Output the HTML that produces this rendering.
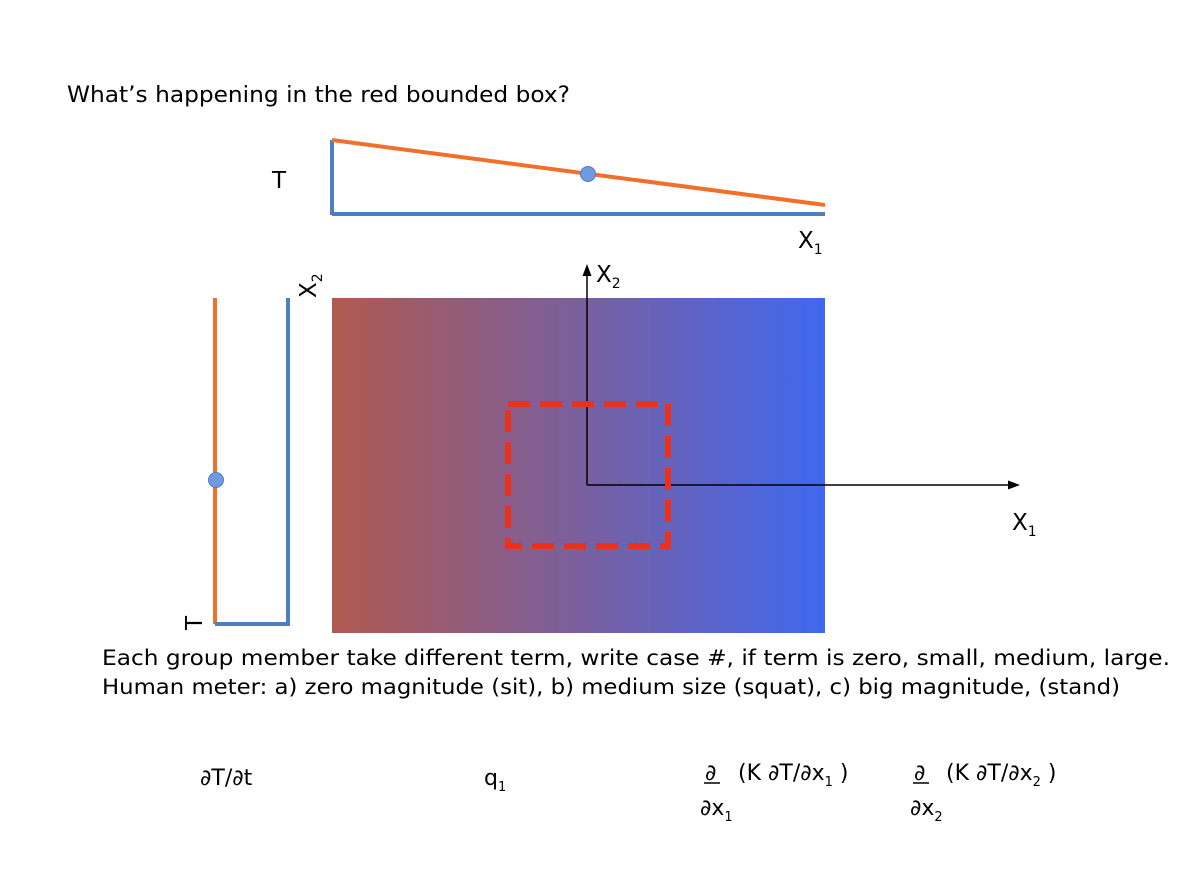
<!DOCTYPE html>
<html><head><meta charset="utf-8"><style>
html,body{margin:0;padding:0;background:#fff;}
svg{display:block}
text{font-family:"DejaVu Sans","Liberation Sans",sans-serif;fill:#000}
</style></head><body>
<svg width="1200" height="876" viewBox="0 0 1200 876" xmlns="http://www.w3.org/2000/svg">
<defs>
<linearGradient id="g" x1="0" x2="1" y1="0" y2="0">
<stop offset="0" stop-color="#b0594f"/>
<stop offset="0.5" stop-color="#7a5f9e"/>
<stop offset="1" stop-color="#3f68f0"/>
</linearGradient>
<marker id="a" markerWidth="8" markerHeight="8" refX="4" refY="4" orient="auto"><path d="M0,1 L8,4 L0,7 z" fill="#000"/></marker>
</defs>
<text x="67" y="102" font-size="22" textLength="503" lengthAdjust="spacingAndGlyphs">What’s happening in the red bounded box?</text>
<line x1="332" y1="140" x2="332" y2="215" stroke="#4f7ec0" stroke-width="4"/>
<line x1="332" y1="214" x2="825" y2="214" stroke="#4f7ec0" stroke-width="4"/>
<line x1="332" y1="140" x2="825" y2="205" stroke="#ef6f2b" stroke-width="4"/>
<circle cx="588" cy="174" r="7.5" fill="#6f9ae0" stroke="#4f7ec0" stroke-width="1"/>
<text x="272" y="188" font-size="23">T</text>
<text x="798" y="248" font-size="23">X<tspan font-size="14" dy="6">1</tspan></text>
<line x1="215" y1="298" x2="215" y2="624" stroke="#ef6f2b" stroke-width="4"/>
<line x1="288" y1="298" x2="288" y2="626" stroke="#4f7ec0" stroke-width="4"/>
<line x1="215" y1="624" x2="290" y2="624" stroke="#4f7ec0" stroke-width="4"/>
<circle cx="216" cy="480" r="7.5" fill="#6f9ae0" stroke="#4f7ec0" stroke-width="1"/>
<text transform="translate(316,298) rotate(-90)" font-size="23">X<tspan font-size="14" dy="6">2</tspan></text>
<text transform="translate(202,630) rotate(-90)" font-size="23">T</text>
<rect x="332" y="298" width="493" height="335" fill="url(#g)"/>
<line x1="587" y1="485" x2="587" y2="270" stroke="#000" stroke-width="1.5" marker-end="url(#a)"/>
<line x1="587" y1="485" x2="1014" y2="485" stroke="#000" stroke-width="1.5" marker-end="url(#a)"/>
<text x="596" y="282" font-size="23">X<tspan font-size="14" dy="6">2</tspan></text>
<text x="1012" y="530" font-size="23">X<tspan font-size="14" dy="6">1</tspan></text>
<rect x="508" y="404" width="160" height="142" fill="none" stroke="#e8321e" stroke-width="6" stroke-dasharray="22,10"/>
<text x="102" y="665" font-size="21.5" textLength="1068" lengthAdjust="spacingAndGlyphs">Each group member take different term,  write case #, if term is zero, small, medium, large.</text>
<text x="102" y="694" font-size="21.5" textLength="1018" lengthAdjust="spacingAndGlyphs">Human meter: a) zero magnitude (sit), b) medium size (squat), c) big magnitude, (stand)</text>
<text x="200" y="785" font-size="22">∂T/∂t</text>
<text x="484" y="785" font-size="22">q<tspan font-size="13" dy="6">1</tspan></text>
<text x="705" y="780" font-size="22">∂</text>
<line x1="704" y1="783" x2="720" y2="783" stroke="#000" stroke-width="1.5"/>
<text x="738" y="780" font-size="22">(K ∂T/∂x<tspan font-size="13" dy="6">1</tspan><tspan dy="-6"> )</tspan></text>
<text x="700" y="815" font-size="22">∂x<tspan font-size="13" dy="6">1</tspan></text>
<text x="914" y="780" font-size="22">∂</text>
<line x1="913" y1="783" x2="929" y2="783" stroke="#000" stroke-width="1.5"/>
<text x="946" y="780" font-size="22">(K ∂T/∂x<tspan font-size="13" dy="6">2</tspan><tspan dy="-6"> )</tspan></text>
<text x="910" y="815" font-size="22">∂x<tspan font-size="13" dy="6">2</tspan></text>
</svg>
</body></html>
